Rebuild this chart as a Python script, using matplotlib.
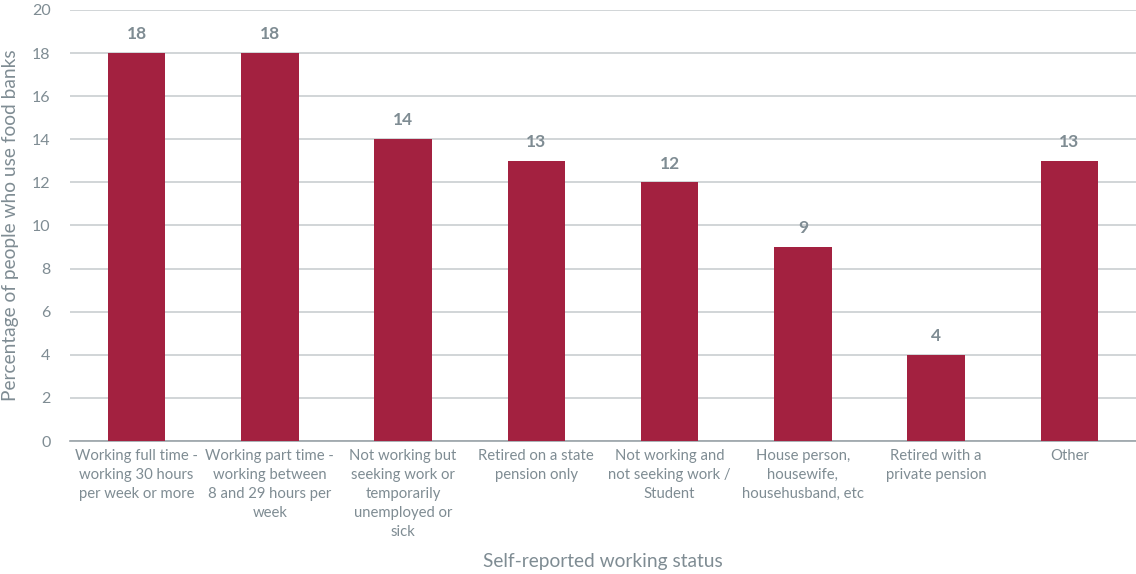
import numpy as np
import matplotlib.pyplot as plt

plt.rcParams['font.family'] = ['Lato', 'DejaVu Sans']

# working status categories and share of food bank users (%)
categories = [
    "Working full time -\nworking 30 hours\nper week or more",
    "Working part time -\nworking between\n8 and 29 hours per\nweek",
    "Not working but\nseeking work or\ntemporarily\nunemployed or\nsick",
    "Retired on a state\npension only",
    "Not working and\nnot seeking work /\nStudent",
    "House person,\nhousewife,\nhousehusband, etc",
    "Retired with a\nprivate pension",
    "Other",
]
values = [18, 18, 14, 13, 12, 9, 4, 13]
yticks = [0, 2, 4, 6, 8, 10, 12, 14, 16, 18, 20]

bar_col = '#A32140'
txt_col = '#7F8C93'
grid_col = '#C9CED1'

fig = plt.figure(figsize=(11.36, 5.74), dpi=100)
ax = fig.add_axes([0.0616, 0.2317, 0.9384, 0.751])

X = np.arange(len(values))
ax.bar(X, values, width=0.43, color=bar_col, zorder=3)
for x, v in zip(X, values):
    ax.text(x, v + 0.5, str(v), ha='center', va='bottom', fontsize=12.5,
            fontweight='bold', color=txt_col)

ax.set_xlim(-0.5, len(values) - 0.5)
ax.set_ylim(0, 20)
ax.set_yticks(yticks)
ax.yaxis.grid(True, color=grid_col, linewidth=1.2, zorder=0)
ax.set_axisbelow(True)

ax.set_xticks(X)
ax.set_xticklabels(categories, fontsize=10.7, color=txt_col, linespacing=1.45)
ax.tick_params(axis='y', labelsize=11.5, colors=txt_col, length=0, pad=14)
ax.tick_params(axis='x', length=0, pad=6)

for s in ['top', 'right', 'left']:
    ax.spines[s].set_visible(False)
ax.spines['bottom'].set_color('#9AA3A8')
ax.spines['bottom'].set_linewidth(1.2)

ax.set_ylabel("Percentage of people who use food banks", fontsize=13.8,
              color=txt_col, labelpad=9)
fig.text(0.531, 0.022, "Self-reported working status", ha='center', va='center',
         fontsize=13.8, color=txt_col)

plt.savefig('out.png', dpi=100)
